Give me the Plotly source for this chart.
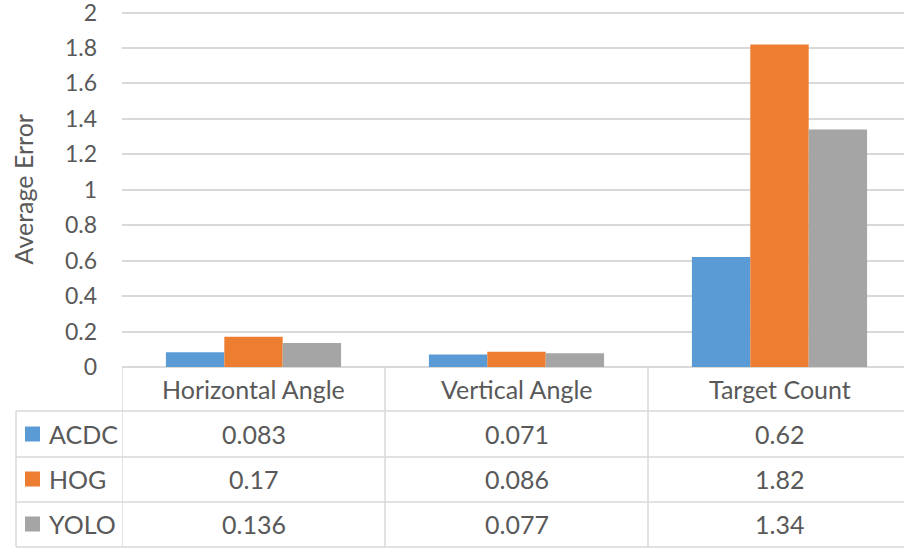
import plotly.graph_objects as go

# chart data
categories = ["Horizontal Angle", "Vertical Angle", "Target Count"]
series_names = ["ACDC", "HOG", "YOLO"]
acdc = [0.083, 0.071, 0.62]
hog = [0.17, 0.086, 1.82]
yolo = [0.136, 0.077, 1.34]
series_values = [acdc, hog, yolo]
colors = ["#5B9BD5", "#ED7D31", "#A5A5A5"]
y_ticks = [0, 0.2, 0.4, 0.6, 0.8, 1, 1.2, 1.4, 1.6, 1.8, 2]

W, H = 904, 550
FONT = "Lato, Carlito, Calibri, sans-serif"
FS = 25
TXT = "#595959"
GRID = "#D9D9D9"


def px(x):
    return x / W


def py(y):
    return 1 - y / H


fig = go.Figure()
for name, vals, col in zip(series_names, series_values, colors):
    fig.add_trace(go.Bar(
        x=categories, y=vals, name=name,
        marker=dict(color=col, line=dict(width=0)),
    ))

# table geometry (pixels)
plot_left, plot_bottom = 122, 367
y_max = 2.03  # a little headroom so the "2" grid line and label are drawn
px_per_unit = (367 - 12.5) / 2
plot_top = plot_bottom - y_max * px_per_unit
row_lines = [411, 457, 502, 547]
row_centers = [434, 479, 524]
header_center = 389

shapes = []
# horizontal table lines
for y in row_lines:
    shapes.append(dict(type="line", xref="paper", yref="paper",
                       x0=px(16), x1=1, y0=py(y), y1=py(y),
                       line=dict(color=GRID, width=1.5)))
# vertical table lines at category boundaries
for xb in [-0.5, 0.5, 1.5]:
    shapes.append(dict(type="line", xref="x", yref="paper",
                       x0=xb, x1=xb, y0=py(plot_bottom), y1=py(row_lines[-1]),
                       line=dict(color=GRID, width=1.5)))
# left border of series-name column
shapes.append(dict(type="line", xref="paper", yref="paper",
                   x0=px(16), x1=px(16), y0=py(row_lines[0]), y1=py(row_lines[-1]),
                   line=dict(color=GRID, width=1.5)))

cell_font = dict(family=FONT, size=FS, color=TXT)
annotations = []
for cat in categories:
    annotations.append(dict(x=cat, xref="x", y=py(header_center), yref="paper",
                            text=cat, showarrow=False,
                            xanchor="center", yanchor="middle", font=cell_font))
for i, (name, vals, col) in enumerate(zip(series_names, series_values, colors)):
    yc = row_centers[i]
    shapes.append(dict(type="rect", xref="paper", yref="paper",
                       x0=px(25), x1=px(40), y0=py(yc - 7.5), y1=py(yc + 7.5),
                       fillcolor=col, line=dict(width=0)))
    annotations.append(dict(x=px(47), xref="paper", y=py(yc), yref="paper",
                            text=name, showarrow=False,
                            xanchor="left", yanchor="middle", font=cell_font))
    for cat, v in zip(categories, vals):
        annotations.append(dict(x=cat, xref="x", y=py(yc), yref="paper",
                                text=str(v), showarrow=False,
                                xanchor="center", yanchor="middle", font=cell_font))

# y axis title
annotations.append(dict(x=px(23), xref="paper", y=py((12 + plot_bottom) / 2),
                        yref="paper", text="Average Error", textangle=-90,
                        showarrow=False, xanchor="center", yanchor="middle",
                        font=cell_font))

fig.update_layout(
    width=W, height=H,
    margin=dict(l=0, r=0, t=0, b=0),
    paper_bgcolor="white", plot_bgcolor="white",
    barmode="group", bargap=0.334, bargroupgap=0,
    showlegend=False,
    font=cell_font,
    xaxis=dict(
        domain=[px(plot_left), 1],
        range=[-0.5, -0.5 + (W - plot_left) / 263],
        showticklabels=False, showgrid=False, zeroline=False,
        showline=False, ticks="", automargin=False,
    ),
    yaxis=dict(
        domain=[py(plot_bottom), py(plot_top)],
        range=[0, y_max], tickvals=y_ticks,
        showgrid=True, gridcolor=GRID, gridwidth=1.5,
        zeroline=True, zerolinecolor=GRID, zerolinewidth=1.5,
        showline=False, ticks="", ticklabelstandoff=24,
        ticklabeloverflow="allow",
        automargin=False,
        tickfont=dict(family=FONT, size=23, color=TXT),
    ),
    shapes=shapes,
    annotations=annotations,
)

fig.write_html("out.html", config={"displayModeBar": False},
               post_script="document.body.style.margin='0';")
